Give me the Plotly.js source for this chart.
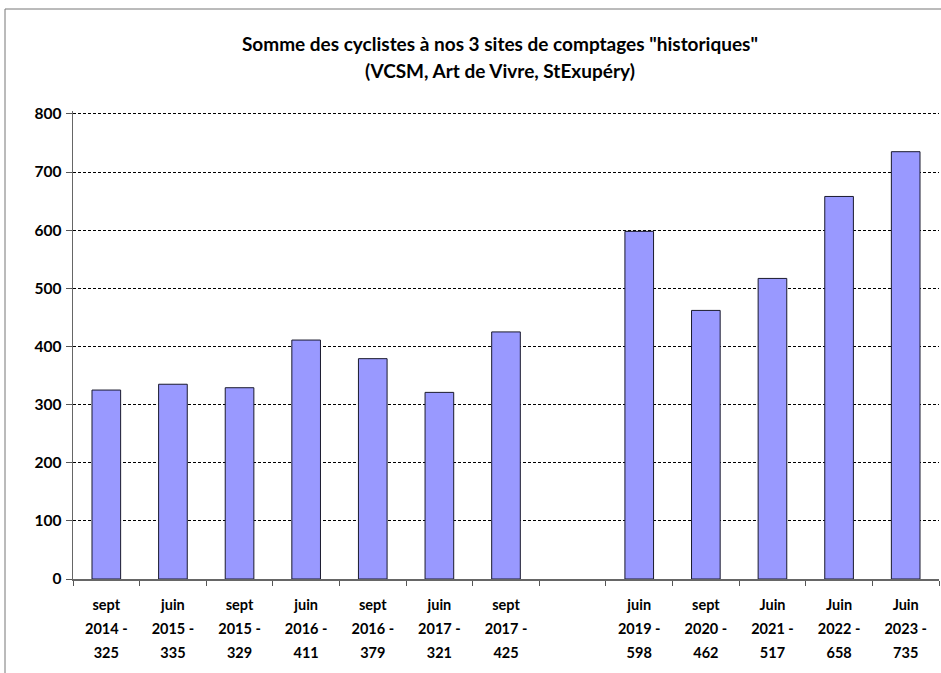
<!DOCTYPE html>
<html>
<head>
<meta charset="utf-8">
<script src="https://cdn.plot.ly/plotly-3.0.1.min.js"></script>
<style>html,body{margin:0;padding:0;background:#fff;}#chart{width:941px;height:673px;}</style>
</head>
<body>
<div id="chart"></div>
<script>
// Data
const periods = ["sept 2014", "juin 2015", "sept 2015", "juin 2016", "sept 2016", "juin 2017", "sept 2017", "", "juin 2019", "sept 2020", "Juin 2021", "Juin 2022", "Juin 2023"];
const counts = [325, 335, 329, 411, 379, 321, 425, null, 598, 462, 517, 658, 735];
const yTicks = [0, 100, 200, 300, 400, 500, 600, 700, 800];

const catIds = periods.map((p, i) => "c" + i);
const LBL = 'font-size:14.5px';
const tickText = periods.map((p, i) => {
  if (counts[i] === null) return "";
  const parts = p.split(" ");
  return '<span style="' + LBL + '">' + parts[0] + '</span><br>' +
         '<span style="' + LBL + '">' + parts[1] + ' -</span><br>' +
         '<span style="' + LBL + '">' + counts[i] + '</span>';
});

const trace = {
  type: "bar",
  x: catIds,
  y: counts,
  width: 0.43,
  marker: { color: "#9999FF", line: { color: "#1a1a2e", width: 1 } },
  hoverinfo: "skip"
};

const layout = {
  width: 941, height: 673,
  margin: { l: 73, r: 2, t: 111, b: 94 },
  paper_bgcolor: "#fff", plot_bgcolor: "#fff",
  font: { family: "Lato, 'Open Sans', sans-serif", color: "#000" },
  showlegend: false,
  bargap: 0.57,
  title: {
    text: '<span style="font-size:19px">Somme des cyclistes à nos 3 sites de comptages "historiques"</span><br><span style="font-size:19px">(VCSM, Art de Vivre, StExupéry)</span>',
    font: { family: "Lato, sans-serif", size: 20.8, weight: "bold", color: "#000" },
    x: 0.493, xanchor: "center", xref: "paper",
    y: 1 - 51 / 673, yanchor: "top", yref: "container"
  },
  xaxis: {
    type: "category",
    categoryorder: "array", categoryarray: catIds,
    tickvals: catIds, ticktext: tickText,
    tickson: "boundaries",
    ticks: "outside", ticklen: 5, tickcolor: "#555", tickwidth: 1,
    showline: true, linecolor: "#666", linewidth: 1.5,
    showgrid: false, zeroline: false,
    tickfont: { family: "Lato, sans-serif", size: 18.5, weight: "bold", color: "#000" },
    ticklabelstandoff: 7,
    tickangle: 0,
    range: [-0.5, 12.5],
    fixedrange: true
  },
  yaxis: {
    range: [0, 805],
    tickvals: yTicks,
    ticks: "outside", ticklen: 6, tickcolor: "#555", tickwidth: 1,
    showline: true, linecolor: "#666", linewidth: 1.5,
    showgrid: true, gridcolor: "#000", gridwidth: 1, griddash: "3px,2px",
    zeroline: false,
    tickfont: { family: "Lato, sans-serif", size: 15.5, weight: "bold", color: "#000" },
    ticklabelstandoff: 1,
    fixedrange: true
  },
  shapes: [{
    type: "rect", xref: "paper", yref: "paper",
    x0: (5 - 73) / 866, x1: 1.02, y0: -0.25, y1: (579 - 9) / 468,
    line: { color: "#777", width: 1 }, fillcolor: "rgba(0,0,0,0)", layer: "below"
  }]
};

Plotly.newPlot("chart", [trace], layout, { displayModeBar: false, staticPlot: true });
</script>
</body>
</html>
